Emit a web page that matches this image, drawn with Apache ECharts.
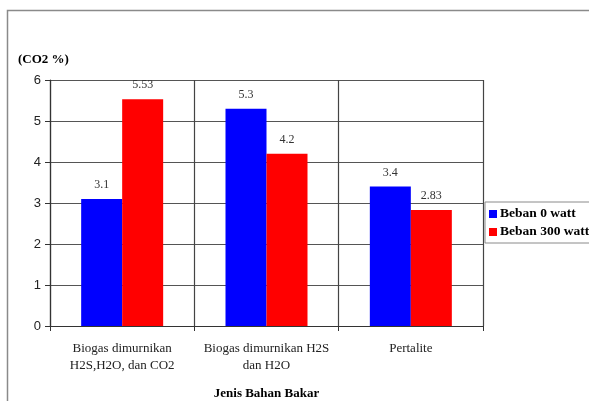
<!DOCTYPE html>
<html>
<head>
<meta charset="utf-8">
<script src="https://cdn.jsdelivr.net/npm/echarts@6/dist/echarts.min.js"></script>
<style>
	html, body { margin: 0; padding: 0; background: #fff; }
	#chart { width: 589px; height: 401px; }
</style>
</head>
<body>
<div id="chart"></div>
<script>
"use strict";

var categories = ['Biogas dimurnikan\nH2S,H2O, dan CO2', 'Biogas dimurnikan H2S\ndan H2O', 'Pertalite'];
var beban0 = [3.1, 5.3, 3.4];
var beban300 = [5.53, 4.2, 2.83];
var seriesNames = ['Beban 0 watt', 'Beban 300 watt'];

var SERIF = '"Liberation Serif", "DejaVu Serif", serif';
var SANS = '"Liberation Sans", Arial, sans-serif';

var chart = echarts.init(document.getElementById('chart'));

function barLabel() {
	return {
		show: true,
		position: 'top',
		distance: 8,
		fontFamily: SERIF,
		fontSize: 12,
		color: '#333'
	};
}

chart.setOption({
	animation: false,
	backgroundColor: '#fff',
	graphic: [{
		type: 'rect',
		shape: { x: 7.5, y: 10.5, width: 600, height: 420 },
		style: { fill: 'none', stroke: '#8a8a8a', lineWidth: 1.5 }
	}],
	grid: {
		left: 50,
		top: 80,
		right: 106,
		bottom: 75,
		outerBoundsMode: 'none'
	},
	legend: {
		orient: 'vertical',
		left: 485,
		top: 202,
		data: seriesNames,
		icon: 'rect',
		itemWidth: 8,
		itemHeight: 8,
		itemGap: 4,
		padding: [5, 8, 4, 4],
		borderColor: '#8a8a8a',
		borderWidth: 1,
		textStyle: {
			fontFamily: SERIF,
			fontWeight: 'bold',
			fontSize: 13.5,
			color: '#000',
			padding: [0, 0, 0, -2]
		}
	},
	xAxis: {
		type: 'category',
		data: categories,
		name: 'Jenis Bahan Bakar',
		nameLocation: 'middle',
		nameGap: 61,
		nameTextStyle: {
			fontFamily: SERIF,
			fontWeight: 'bold',
			fontSize: 13,
			color: '#000'
		},
		axisLine: { lineStyle: { color: '#333', width: 1.2 } },
		axisTick: { show: true, length: 5, lineStyle: { color: '#333' } },
		splitLine: { show: true, lineStyle: { color: '#444', width: 1.2 } },
		axisLabel: {
			fontFamily: SERIF,
			fontSize: 13,
			color: '#222',
			margin: 14,
			lineHeight: 17,
			interval: 0
		}
	},
	yAxis: {
		type: 'value',
		min: 0,
		max: 6,
		interval: 1,
		name: '(CO2 %)',
		nameLocation: 'end',
		nameGap: 14,
		nameTextStyle: {
			fontFamily: SERIF,
			fontWeight: 'bold',
			fontSize: 13,
			color: '#000',
			align: 'left',
			padding: [0, 0, 0, -32]
		},
		axisLine: { show: true, lineStyle: { color: '#333', width: 1.2 } },
		axisTick: { show: true, length: 5, lineStyle: { color: '#333' } },
		splitLine: { show: true, lineStyle: { color: '#555', width: 1.2 } },
		axisLabel: {
			fontFamily: SANS,
			fontSize: 13,
			color: '#222',
			margin: 9
		}
	},
	series: [{
		name: seriesNames[0],
		type: 'bar',
		data: beban0,
		barWidth: 41,
		barGap: '0%',
		itemStyle: { color: '#0000ff' },
		label: barLabel()
	}, {
		name: seriesNames[1],
		type: 'bar',
		data: beban300,
		barWidth: 41,
		barGap: '0%',
		itemStyle: { color: '#ff0000' },
		label: barLabel()
	}]
});
</script>
</body>
</html>
